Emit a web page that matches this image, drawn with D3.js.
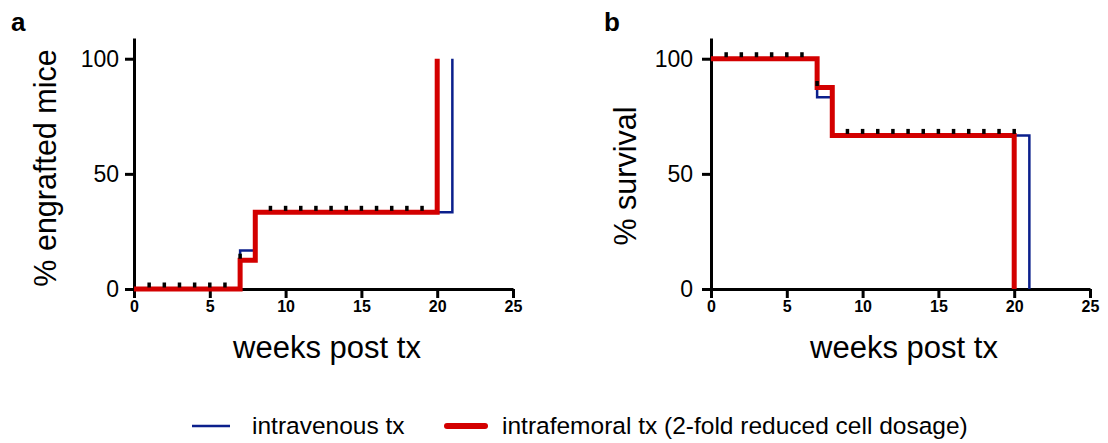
<!DOCTYPE html>
<html>
<head>
<meta charset="utf-8">
<script src="https://cdn.jsdelivr.net/npm/d3@7"></script>
<style>
  body { margin: 0; background: #fff; }
  svg { font-family: "Liberation Sans", Arial, sans-serif; }
</style>
</head>
<body>
<div id="content"></div>
<script>
// step data: [week, percent]
const engraftIV = [[0, 0], [7, 16.7], [8, 33.3], [21, 100]];
const engraftIF = [[0, 0], [7, 12.5], [8, 33.3], [20, 100]];
const survivalIV = [[0, 100], [7, 83.3], [8, 66.7], [21, 0]];
const survivalIF = [[0, 100], [7, 87.5], [8, 66.7], [20, 0]];

// censor ticks
const engraftMarks = [[1, 0], [2, 0], [3, 0], [4, 0], [5, 0], [6, 0], [7, 12.5],
    [9, 33.3], [10, 33.3], [11, 33.3], [12, 33.3], [13, 33.3], [14, 33.3], [15, 33.3],
    [16, 33.3], [17, 33.3], [18, 33.3], [19, 33.3]];
const survivalMarks = [[1, 100], [2, 100], [3, 100], [4, 100], [5, 100], [6, 100], [7, 87.5],
    [9, 66.7], [10, 66.7], [11, 66.7], [12, 66.7], [13, 66.7], [14, 66.7], [15, 66.7],
    [16, 66.7], [17, 66.7], [18, 66.7], [19, 66.7], [20, 66.7]];

const xTicks = [0, 5, 10, 15, 20, 25];
const yTicks = [0, 50, 100];
const legendLabels = ["intravenous tx", "intrafemoral tx (2-fold reduced cell dosage)"];

const blue = "#0b1f8c",
    red = "#d30000";

let svg = d3.select("#content")
    .append("svg")
    .attr("width", 1108)
    .attr("height", 443);

function panel(opts) {
    let x = d3.scaleLinear().domain([0, 25]).range([opts.left, opts.left + 379]);
    let y = d3.scaleLinear().domain([0, 109]).range([289, 38]);

    let g = svg.append("g");

    // x axis
    let xa = g.append("g")
        .attr("transform", "translate(0,289)")
        .call(d3.axisBottom(x).tickValues(xTicks).tickSize(9).tickSizeOuter(0).tickPadding(3));
    xa.selectAll("text")
        .style("font-size", "16px")
        .style("font-weight", "bold")
        .attr("fill", "#000");

    // y axis
    let ya = g.append("g")
        .attr("transform", "translate(" + opts.left + ",0)")
        .call(d3.axisLeft(y).tickValues(yTicks).tickSize(9).tickSizeOuter(0).tickPadding(opts.yPad));
    ya.selectAll("text")
        .style("font-size", "23px")
        .attr("fill", "#000");

    g.selectAll(".domain, .tick line")
        .attr("stroke", "#000")
        .attr("stroke-width", 3);

    let line = d3.line()
        .x(d => x(d[0]))
        .y(d => y(d[1]))
        .curve(d3.curveStepAfter);

    g.append("path")
        .datum(opts.iv)
        .attr("d", line)
        .attr("fill", "none")
        .attr("stroke", blue)
        .attr("stroke-width", 2.5);

    g.append("path")
        .datum(opts.ifm)
        .attr("d", line)
        .attr("fill", "none")
        .attr("stroke", red)
        .attr("stroke-width", 5);

    // censor marks
    g.selectAll(".mark")
        .data(opts.marks)
        .enter()
        .append("rect")
        .attr("x", d => x(d[0]) - 1.75)
        .attr("y", d => y(d[1]) - 6.5)
        .attr("width", 3.5)
        .attr("height", 5)
        .attr("fill", "#000");

    // axis titles
    g.append("text")
        .attr("transform", "translate(" + opts.yTitleX + "," + opts.yTitleY + ") rotate(-90)")
        .attr("text-anchor", "middle")
        .style("font-size", "30.5px")
        .text(opts.yTitle);

    g.append("text")
        .attr("x", opts.left + 193)
        .attr("y", 358)
        .attr("text-anchor", "middle")
        .style("font-size", "31px")
        .text("weeks post tx");

    g.append("text")
        .attr("x", opts.labelX)
        .attr("y", 31)
        .style("font-size", "26px")
        .style("font-weight", "bold")
        .text(opts.label);
}

panel({left: 134, iv: engraftIV, ifm: engraftIF, marks: engraftMarks, yPad: 6,
    yTitle: "% engrafted mice", yTitleX: 56, yTitleY: 168, label: "a", labelX: 11});
panel({left: 711, iv: survivalIV, ifm: survivalIF, marks: survivalMarks, yPad: 9,
    yTitle: "% survival", yTitleX: 636, yTitleY: 176, label: "b", labelX: 604});

// legend
let legend = svg.append("g");
legend.append("line")
    .attr("x1", 192).attr("x2", 230)
    .attr("y1", 426).attr("y2", 426)
    .attr("stroke", blue)
    .attr("stroke-width", 2.5);
legend.append("text")
    .attr("x", 252).attr("y", 434)
    .style("font-size", "24.5px")
    .text(legendLabels[0]);
legend.append("line")
    .attr("x1", 447).attr("x2", 485)
    .attr("y1", 426).attr("y2", 426)
    .attr("stroke", red)
    .attr("stroke-width", 6)
    .attr("stroke-linecap", "round");
legend.append("text")
    .attr("x", 502).attr("y", 434)
    .style("font-size", "24.5px")
    .text(legendLabels[1]);
</script>
</body>
</html>
